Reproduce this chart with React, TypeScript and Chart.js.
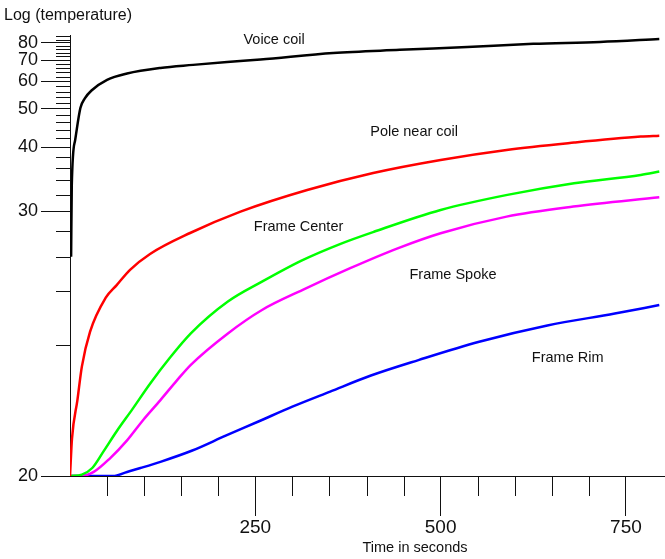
import React, { useEffect, useRef } from 'react';
import { Chart, registerables, LinearScale } from 'chart.js';

// ---- data (time in seconds, temperature) ----
const VOICE_T = [1.5, 2.4, 7, 14, 20, 29, 50, 77, 122, 166, 212, 257, 355, 445, 536, 625, 715, 795];
const VOICE_V = [26, 33.3, 41.6, 50.3, 53.5, 56.4, 60.7, 63.5, 66.1, 67.6, 69.1, 70.4, 73.9, 75.7, 77.4, 79.3, 80.5, 82.4];

const POLE_T = [0, 2.7, 10, 16, 27, 48, 63, 81, 108, 162, 230, 320, 409, 500, 589, 680, 770, 795];
const POLE_V = [20, 20.33, 20.83, 21.46, 22.39, 23.68, 24.3, 25.15, 26.19, 27.85, 29.96, 32.62, 35.17, 37.45, 39.42, 40.99, 42.37, 42.6];

const CENTER_T = [0, 16, 30, 45, 63, 84, 108, 135, 163, 213, 259, 313, 365, 410, 500, 590, 680, 770, 795];
const CENTER_V = [20, 20.01, 20.06, 20.2, 20.41, 20.69, 21.11, 21.67, 22.34, 23.52, 24.48, 25.75, 26.95, 27.96, 30.14, 31.96, 33.58, 34.85, 35.4];

const SPOKE_T = [0, 14, 32, 54, 77, 99, 122, 144, 163, 213, 259, 314, 378, 442, 500, 589, 679, 795];
const SPOKE_V = [20, 20.0, 20.03, 20.14, 20.31, 20.55, 20.83, 21.17, 21.5, 22.34, 23.17, 24.06, 25.25, 26.6, 27.83, 29.42, 30.52, 31.66];

const RIM_T = [0, 30, 58, 77, 95, 122, 165, 210, 255, 300, 351, 406, 470, 552, 644, 735, 795];
const RIM_V = [20, 20, 20.0, 20.03, 20.06, 20.11, 20.21, 20.36, 20.53, 20.73, 20.97, 21.27, 21.61, 22.09, 22.6, 23.03, 23.37];

// ---- axis ticks ----
const Y_MAJOR = [20, 30, 40, 50, 60, 70, 80];
const Y_MINOR = [22, 24, 26, 28, 32, 34, 36, 38, 42, 44, 46, 48, 52, 54, 56, 58, 62, 64, 66, 68, 72, 74, 76, 78, 82, 84];
const X_MAJOR = [250, 500, 750];
const X_MINOR = [50, 100, 150, 200, 300, 350, 400, 450, 550, 600, 650, 700];

// ---- curve annotations (anchor in data coordinates) ----
const LABEL_TEXT = ['Voice coil', 'Pole near coil', 'Frame Center', 'Frame Spoke', 'Frame Rim'];
const LABEL_TIME = [234, 405, 248, 458, 623];
const LABEL_TEMP = [81.8, 43.5, 28.43, 24.85, 21.65];

const Y_TITLE = 'Log (temperature)';
const X_TITLE = 'Time in seconds';

const OFFSET = 19.3;
const FONT = '"Liberation Sans", Arial, sans-serif';
const INK = '#111';

class OffsetLogScale extends LinearScale {
  static id = 'offsetLog';
  getPixelForValue(value: number) {
    if (value === null || value === undefined || isNaN(value)) return NaN;
    const f = (v: number) => Math.log10(v - OFFSET);
    const d = (f(value) - f(this.min)) / (f(this.max) - f(this.min));
    return this.getPixelForDecimal(d);
  }
  getValueForPixel(pixel: number) {
    const f = (v: number) => Math.log10(v - OFFSET);
    const d = this.getDecimalForPixel(pixel);
    return Math.pow(10, f(this.min) + d * (f(this.max) - f(this.min))) + OFFSET;
  }
}

Chart.register(...registerables, OffsetLogScale);

const pts = (t: number[], v: number[]) => t.map((x, i) => ({ x, y: v[i] }));

const decorPlugin = {
  id: 'decor',
  afterDraw(chart: any) {
    const { ctx, scales, chartArea } = chart;
    const xs = scales.x;
    const ys = scales.y;
    ctx.save();
    ctx.strokeStyle = INK;
    ctx.lineWidth = 1;
    ctx.beginPath();
    Y_MINOR.forEach((v) => {
      const y = Math.round(ys.getPixelForValue(v)) + 0.5;
      ctx.moveTo(chartArea.left - 14, y);
      ctx.lineTo(chartArea.left, y);
    });
    X_MINOR.forEach((v) => {
      const x = Math.round(xs.getPixelForValue(v)) + 0.5;
      ctx.moveTo(x, chartArea.bottom);
      ctx.lineTo(x, chartArea.bottom + 20);
    });
    // extend the x axis line to the canvas edge
    const yb = Math.round(chartArea.bottom) + 0.5;
    ctx.moveTo(chartArea.right, yb);
    ctx.lineTo(chart.width, yb);
    ctx.stroke();

    ctx.fillStyle = INK;
    ctx.textBaseline = 'middle';
    ctx.textAlign = 'left';
    ctx.font = `14.5px ${FONT}`;
    LABEL_TEXT.forEach((txt, i) => {
      ctx.fillText(txt, xs.getPixelForValue(LABEL_TIME[i]), ys.getPixelForValue(LABEL_TEMP[i]));
    });
    ctx.font = `16px ${FONT}`;
    ctx.fillText(Y_TITLE, 4, 16);
    ctx.textAlign = 'center';
    ctx.font = `14.5px ${FONT}`;
    ctx.fillText(X_TITLE, 415, 548);
    ctx.restore();
  },
};

export default function App() {
  const ref = useRef<HTMLCanvasElement>(null);
  useEffect(() => {
    if (!ref.current) return;
    const mk = (label: string, t: number[], v: number[], color: string, w = 2.5) => ({
      label,
      data: pts(t, v),
      borderColor: color,
      backgroundColor: color,
      borderWidth: w,
      pointRadius: 0,
      cubicInterpolationMode: 'monotone' as const,
      fill: false,
    });
    const chart = new Chart(ref.current, {
      type: 'line',
      data: {
        datasets: [
          mk('Voice coil', VOICE_T, VOICE_V, '#000000'),
          mk('Pole near coil', POLE_T, POLE_V, '#ff0000'),
          mk('Frame Center', CENTER_T, CENTER_V, '#00ff00'),
          mk('Frame Spoke', SPOKE_T, SPOKE_V, '#ff00ff'),
          mk('Frame Rim', RIM_T, RIM_V, '#0000ff'),
        ],
      },
      options: {
        animation: false,
        responsive: true,
        maintainAspectRatio: false,
        layout: { padding: { top: 35, right: 2, left: 0, bottom: 0 } },
        plugins: { legend: { display: false }, tooltip: { enabled: false } },
        scales: {
          x: {
            type: 'linear',
            min: 0,
            max: 800,
            position: 'bottom',
            grid: { drawOnChartArea: false, drawTicks: true, tickLength: 40, tickColor: INK, color: INK },
            border: { display: true, color: INK, width: 1 },
            ticks: { autoSkip: false, maxRotation: 0, padding: 0, color: INK, font: { family: FONT, size: 19 } },
            afterBuildTicks: (s: any) => {
              s.ticks = X_MAJOR.map((v) => ({ value: v }));
            },
            afterFit: (s: any) => {
              s.height = 83;
            },
          },
          y: {
            type: 'offsetLog' as any,
            min: 20,
            max: 85,
            position: 'left',
            grid: { drawOnChartArea: false, drawTicks: true, tickLength: 29, tickColor: INK, color: INK },
            border: { display: true, color: INK, width: 1 },
            ticks: {
              autoSkip: false,
              padding: 3,
              color: INK,
              font: { family: FONT, size: 18 },
              callback: (v: any) => String(v),
            },
            afterBuildTicks: (s: any) => {
              s.ticks = Y_MAJOR.map((v) => ({ value: v }));
            },
            afterFit: (s: any) => {
              s.width = 70;
            },
          },
        },
      },
      plugins: [decorPlugin],
    } as any);
    return () => chart.destroy();
  }, []);
  return (
    <div style={{ position: 'absolute', left: 0, top: 0, width: 665, height: 559, background: '#fff' }}>
      <canvas ref={ref} />
    </div>
  );
}
